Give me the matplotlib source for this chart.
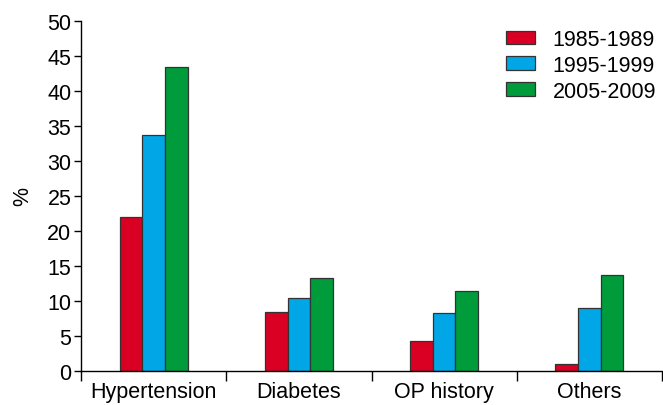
import matplotlib.pyplot as plt
import numpy as np

plt.rcParams['font.family'] = ['Liberation Sans', 'DejaVu Sans']

categories = ['Hypertension', 'Diabetes', 'OP history', 'Others']
periods = ['1985-1989', '1995-1999', '2005-2009']
values_1985 = [22.0, 8.4, 4.3, 1.0]
values_1995 = [33.7, 10.4, 8.3, 9.0]
values_2005 = [43.4, 13.3, 11.4, 13.7]
colors = ['#d90023', '#00a6e6', '#009b3a']

fig = plt.figure(figsize=(6.63, 4.06), dpi=100)
ax = fig.add_axes([0.1222, 0.083, 0.8763, 0.8636])

x = np.arange(len(categories))
width = 0.156
for i, (vals, label, c) in enumerate(zip([values_1985, values_1995, values_2005], periods, colors)):
    ax.bar(x + (i - 1) * width, vals, width, color=c, edgecolor='#333333',
           linewidth=0.9, label=label, zorder=2)

fs = 15.5
ax.set_xlim(-0.5, len(categories) - 0.5)
ax.set_ylim(0, 50)
ax.set_yticks(range(0, 51, 5))
ax.set_ylabel('%', fontsize=fs, labelpad=10)

# category labels between boundary ticks
ax.set_xticks(np.arange(-0.5, len(categories)), labels=[''] * (len(categories) + 1))
ax.set_xticks(x, labels=categories, minor=True)
ax.tick_params(axis='x', which='minor', length=0, labelsize=fs, pad=7)
ax.tick_params(axis='x', which='major', length=7, width=1, direction='out')
ax.tick_params(axis='y', length=5, width=1, labelsize=fs, pad=2)

for side in ['top', 'right']:
    ax.spines[side].set_visible(False)
for side in ['left', 'bottom']:
    ax.spines[side].set_linewidth(1)
    ax.spines[side].set_color('black')
ax.spines['bottom'].set_zorder(3)

ax.legend(loc='upper right', bbox_to_anchor=(0.99, 0.976), frameon=False, fontsize=fs,
          handlelength=1.35, handleheight=0.6, handletextpad=0.8, labelspacing=0.22,
          borderaxespad=0, borderpad=0)

plt.savefig('out.png', dpi=100)
